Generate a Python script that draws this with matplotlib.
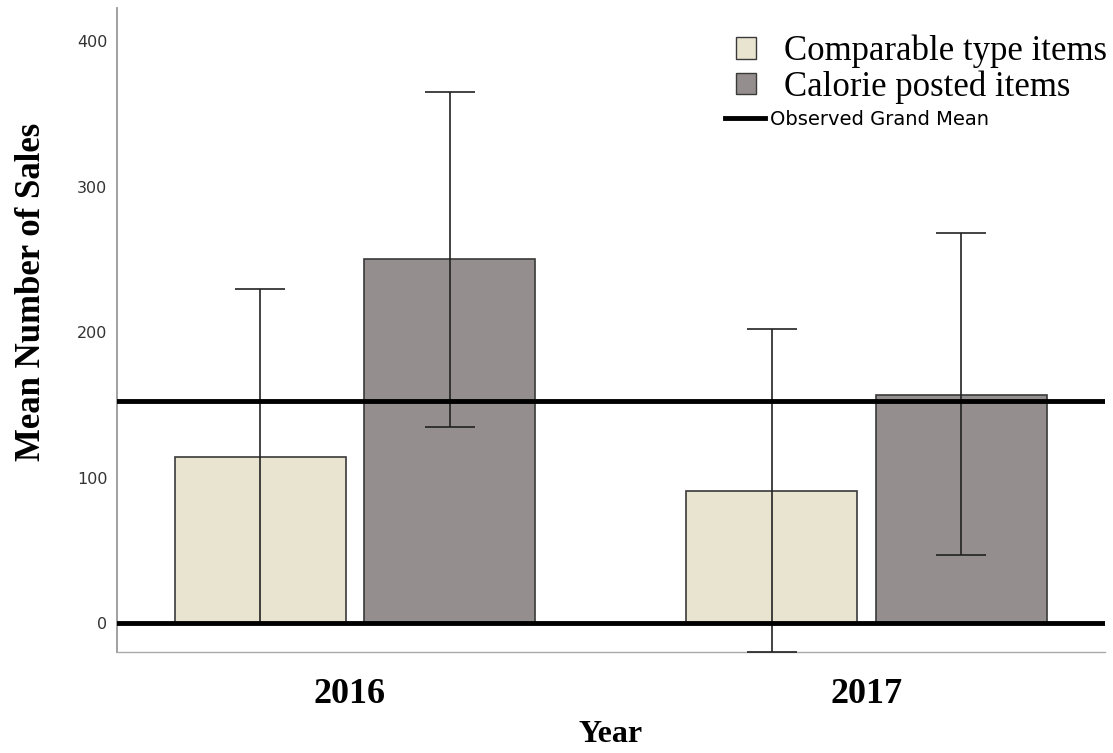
import matplotlib.pyplot as plt
from matplotlib.patches import Patch
from matplotlib.lines import Line2D

years = ['2016', '2017']
groups = ['Comparable type items', 'Calorie posted items']
means_comparable = [114, 91]
means_calorie = [250, 157]
# confidence interval bounds (lower, upper)
ci_comparable = [(0, 230), (-20, 202)]
ci_calorie = [(135, 365), (47, 268)]
grand_mean = 153

col_comp = '#e9e4cf'
col_cal = '#958e8e'
serif = 'Liberation Serif'

fig = plt.figure(figsize=(11.13, 7.53), dpi=100)
ax = fig.add_axes([117 / 1113, 1 - 652 / 753, (1105 - 117) / 1113, (652 - 8) / 753])

x = [0, 1]
w = 0.334
off = 0.185

xc = [i - off for i in x]
xk = [i + off for i in x]
ax.bar(xc, means_comparable, width=w, color=col_comp, edgecolor='#3a3a3a', linewidth=1.2, zorder=2)
ax.bar(xk, means_calorie, width=w, color=col_cal, edgecolor='#3a3a3a', linewidth=1.2, zorder=2)

def ci_err(means, cis):
    lo = [m - c[0] for m, c in zip(means, cis)]
    hi = [c[1] - m for m, c in zip(means, cis)]
    return [lo, hi]

ax.errorbar(xc, means_comparable, yerr=ci_err(means_comparable, ci_comparable), fmt='none',
            ecolor='#222222', elinewidth=1.2, capsize=18, capthick=1.2, zorder=3)
ax.errorbar(xk, means_calorie, yerr=ci_err(means_calorie, ci_calorie), fmt='none',
            ecolor='#222222', elinewidth=1.2, capsize=18, capthick=1.2, zorder=3)

ax.axhline(0, color='black', lw=3.5, zorder=4)
ax.axhline(grand_mean, color='black', lw=3.5, zorder=4)

ax.set_xlim(-0.465, 1.466)
ax.set_ylim(-20, 423)
ax.set_yticks([0, 100, 200, 300, 400])
ax.tick_params(axis='y', length=0, labelsize=11.5, pad=7, labelcolor='#333333')
ax.set_xticks([-0.01, 1.0])
ax.set_xticklabels(years, fontfamily=serif, fontweight='bold', fontsize=26)
ax.tick_params(axis='x', length=0, pad=19)

for s in ['top', 'right']:
    ax.spines[s].set_visible(False)
ax.spines['left'].set_color('#999999')
ax.spines['bottom'].set_color('#aaaaaa')
ax.spines['left'].set_linewidth(1.3)
ax.spines['bottom'].set_linewidth(1.0)

ax.set_xlabel('Year', fontfamily=serif, fontweight='bold', fontsize=23)
ax.xaxis.set_label_coords(0.5, -0.106)
ax.set_ylabel('Mean Number of Sales', fontfamily=serif, fontweight='bold', fontsize=25)
ax.yaxis.set_label_coords(-0.07, 0.559)

h1 = [Patch(facecolor=col_comp, edgecolor='#3a3a3a'), Patch(facecolor=col_cal, edgecolor='#3a3a3a')]
leg1 = ax.legend(h1, groups, loc='upper right', bbox_to_anchor=(1.016, 0.98), frameon=False,
                 prop={'family': serif, 'size': 25}, handlelength=0.58, handleheight=0.58,
                 handletextpad=0.8, labelspacing=0.06, borderaxespad=0)
ax.add_artist(leg1)
h2 = [Line2D([0], [0], color='black', lw=3.5)]
ax.legend(h2, ['Observed Grand Mean'], loc='upper left', bbox_to_anchor=(0.608, 0.854), frameon=False,
          prop={'size': 14}, handlelength=2.05, handletextpad=0.25, borderaxespad=0)

fig.savefig('out.png', dpi=100)
